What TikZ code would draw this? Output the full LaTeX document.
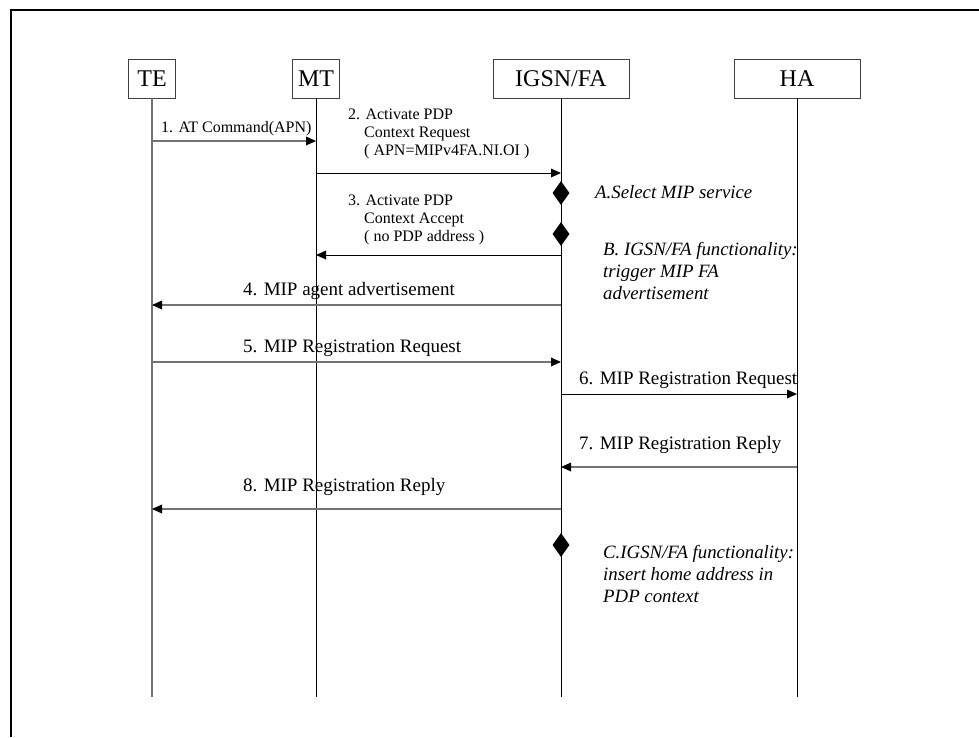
\documentclass[tikz,border=0pt]{standalone}
\usepackage{fontspec}
\setmainfont{Liberation Serif}
\usetikzlibrary{arrows.meta,shapes.geometric}

\begin{document}
\begin{tikzpicture}[x=1pt,y=-1pt,
    entity/.style={draw=black!75,line width=0.8pt,minimum height=39pt,inner sep=0pt,font=\fontsize{24}{28}\selectfont},
    life/.style={line width=0.9pt},
    msg/.style={line width=0.9pt,-{Triangle[length=10pt,width=9pt,color=black,line width=0pt]}},
    soft/.style={draw=black!55,line width=1.4pt},
    small/.style={inner sep=0pt,font=\fontsize{16}{18}\selectfont,align=left},
    big/.style={inner sep=0pt,font=\fontsize{19}{22}\selectfont},
    note/.style={inner sep=0pt,font=\fontsize{18.8}{22}\selectfont\itshape,align=left},
    diam/.style={diamond,fill=black,inner sep=0pt,minimum width=17pt,minimum height=24pt}]
    \useasboundingbox (0,0) rectangle (979,737);
    \draw[line width=2pt] (11,737) -- (11,10) -- (979,10);

    % entities
    \node[entity,minimum width=47pt] (te) at (152,78.5) {TE};
    \node[entity,minimum width=47pt] (mt) at (316,78.5) {MT};
    \node[entity,minimum width=136pt] (igsn) at (561,78.5) {IGSN/FA};
    \node[entity,minimum width=126pt] (ha) at (797,78.5) {HA};

    \coordinate (te0) at (152,697);
    \coordinate (mt0) at (316,697);
    \coordinate (igsn0) at (561,697);
    \coordinate (ha0) at (797,697);
    \draw[life,soft] (te) -- (te0);
    \draw[life] (mt) -- (mt0);
    \draw[life] (igsn) -- (igsn0);
    \draw[life] (ha) -- (ha0);

    % message ends
    \coordinate (te1) at (152,141);  \coordinate (mt1) at (316,141);
    \coordinate (mt2) at (316,173);  \coordinate (igsn2) at (561,173);
    \coordinate (igsn3) at (561,255); \coordinate (mt3) at (316,255);
    \coordinate (igsn4) at (561,305); \coordinate (te4) at (152,305);
    \coordinate (te5) at (152,362);  \coordinate (igsn5) at (561,362);
    \coordinate (igsn6) at (561,394); \coordinate (ha6) at (797,394);
    \coordinate (ha7) at (797,467);  \coordinate (igsn7) at (561,467);
    \coordinate (igsn8) at (561,509); \coordinate (te8) at (152,509);

    \draw[msg,soft] (te1) -- (mt1);
    \draw[msg] (mt2) -- (igsn2);
    \draw[msg] (igsn3) -- (mt3);
    \draw[msg,soft] (igsn4) -- (te4);
    \draw[msg,soft] (te5) -- (igsn5);
    \draw[msg] (igsn6) -- (ha6);
    \draw[msg,soft] (ha7) -- (igsn7);
    \draw[msg,soft] (igsn8) -- (te8);

    \node[small,anchor=base west] (l1) at (161,132) {1. AT Command(APN)};
    \node[small,anchor=north west] (l2) at (348,109) {2. Activate PDP\\\hspace*{1em}Context Request\\\hspace*{1em}( APN=MIPv4FA.NI.OI )};
    \node[small,anchor=north west] (l3) at (348,195) {3. Activate PDP\\\hspace*{1em}Context Accept\\\hspace*{1em}( no PDP address )};
    \node[big,anchor=base west] (l4) at (243,295) {4. MIP agent advertisement};
    \node[big,anchor=base west] (l5) at (243,352) {5. MIP Registration Request};
    \node[big,anchor=base west] (l6) at (579,384) {6. MIP Registration Request};
    \node[big,anchor=base west] (l7) at (579,449) {7. MIP Registration Reply};
    \node[big,anchor=base west] (l8) at (243,491) {8. MIP Registration Reply};

    % local actions
    \node[diam] (da) at (561,193) {};
    \node[diam] (db) at (561,234) {};
    \node[diam] (dc) at (561,545) {};
    \node[note,anchor=base west] (na) at (595,198) {A.Select MIP service};
    \node[note,anchor=north west] (nb) at (603,242) {B. IGSN/FA functionality:\\trigger MIP FA\\advertisement};
    \node[note,anchor=north west] (nc) at (603,545) {C.IGSN/FA functionality:\\insert home address in\\PDP context};
\end{tikzpicture}
\end{document}
